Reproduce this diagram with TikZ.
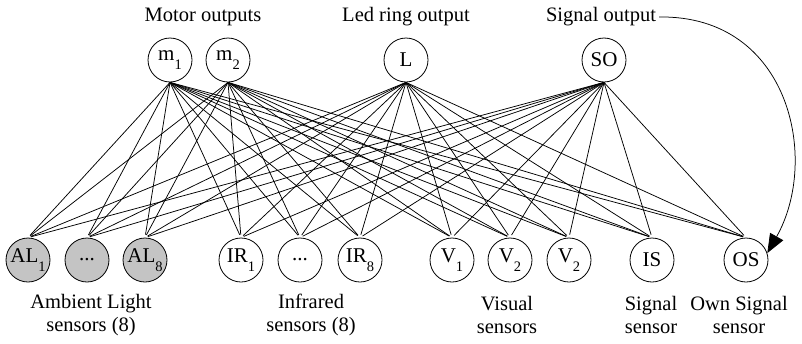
\documentclass[tikz,border=0pt]{standalone}
\usepackage{fontspec}
\setmainfont{Liberation Serif}
\usetikzlibrary{arrows.meta}
\newcommand{\lowsub}[1]{\raisebox{-0.45em}{\fontsize{14.5}{14.5}\selectfont #1}}
\definecolor{nodegray}{RGB}{196,196,196}
\tikzset{
  unit/.style={circle, draw=black, line width=0.8pt, minimum size=44pt, inner sep=0pt, font=\fontsize{21}{22}\selectfont},
  grayunit/.style={unit, fill=nodegray},
  lbl/.style={align=center, inner sep=0pt, font=\fontsize{20.5}{23}\selectfont},
  conn/.style={line width=0.75pt, shorten >=3pt},
}
\begin{document}
\begin{tikzpicture}[x=1pt,y=-1pt]
\useasboundingbox (0,0) rectangle (802,343);
% output nodes
\node[unit] (m1) at (170,60) {m\lowsub{1}};
\node[unit] (m2) at (228,60) {m\lowsub{2}};
\node[unit] (L)  at (406,60) {L};
\node[unit] (SO) at (604,60) {SO};
% sensor nodes
\node[grayunit] (AL1) at (28,260) {AL\lowsub{1}};
\node[grayunit] (ALd) at (87,260) {...};
\node[grayunit] (AL8) at (145,260) {AL\lowsub{8}};
\node[unit] (IR1) at (241,260) {IR\lowsub{1}};
\node[unit] (IRd) at (300,260) {...};
\node[unit] (IR8) at (360,260) {IR\lowsub{8}};
\node[unit] (V1) at (452,260) {V\lowsub{1}};
\node[unit] (V2) at (510,260) {V\lowsub{2}};
\node[unit] (V3) at (569,260) {V\lowsub{2}};
\node[unit] (IS) at (652,260) {IS};
\node[unit] (OS) at (746,260) {OS};
% labels
\node[lbl] (tm) at (203,17) {Motor outputs};
\node[lbl] (tl) at (406,17) {Led ring output};
\node[lbl] (ts) at (601,17) {Signal output};
\node[lbl] (bal) at (91,315) {Ambient Light\\sensors (8)};
\node[lbl] (bir) at (311,315) {Infrared\\sensors (8)};
\node[lbl] (bv) at (507,315) {Visual\\sensors};
\node[lbl] (bis) at (651,315) {Signal\\sensor};
\node[lbl] (bos) at (739,315) {Own Signal\\sensor};
% connections
\foreach \o in {m1,m2,L,SO}{
  \foreach \s in {AL1,ALd,AL8,IR1,IRd,IR8,V1,V2,V3,IS,OS}{
    \draw[conn] (\o.south) -- (\s.north);
  }
}
% signal output feedback arrow
\draw[line width=0.75pt, -{Triangle[length=19pt,width=15pt]}]
  ([xshift=3pt]ts.east) .. controls (790,15) and (820,160) .. (OS.18);
\end{tikzpicture}
\end{document}
